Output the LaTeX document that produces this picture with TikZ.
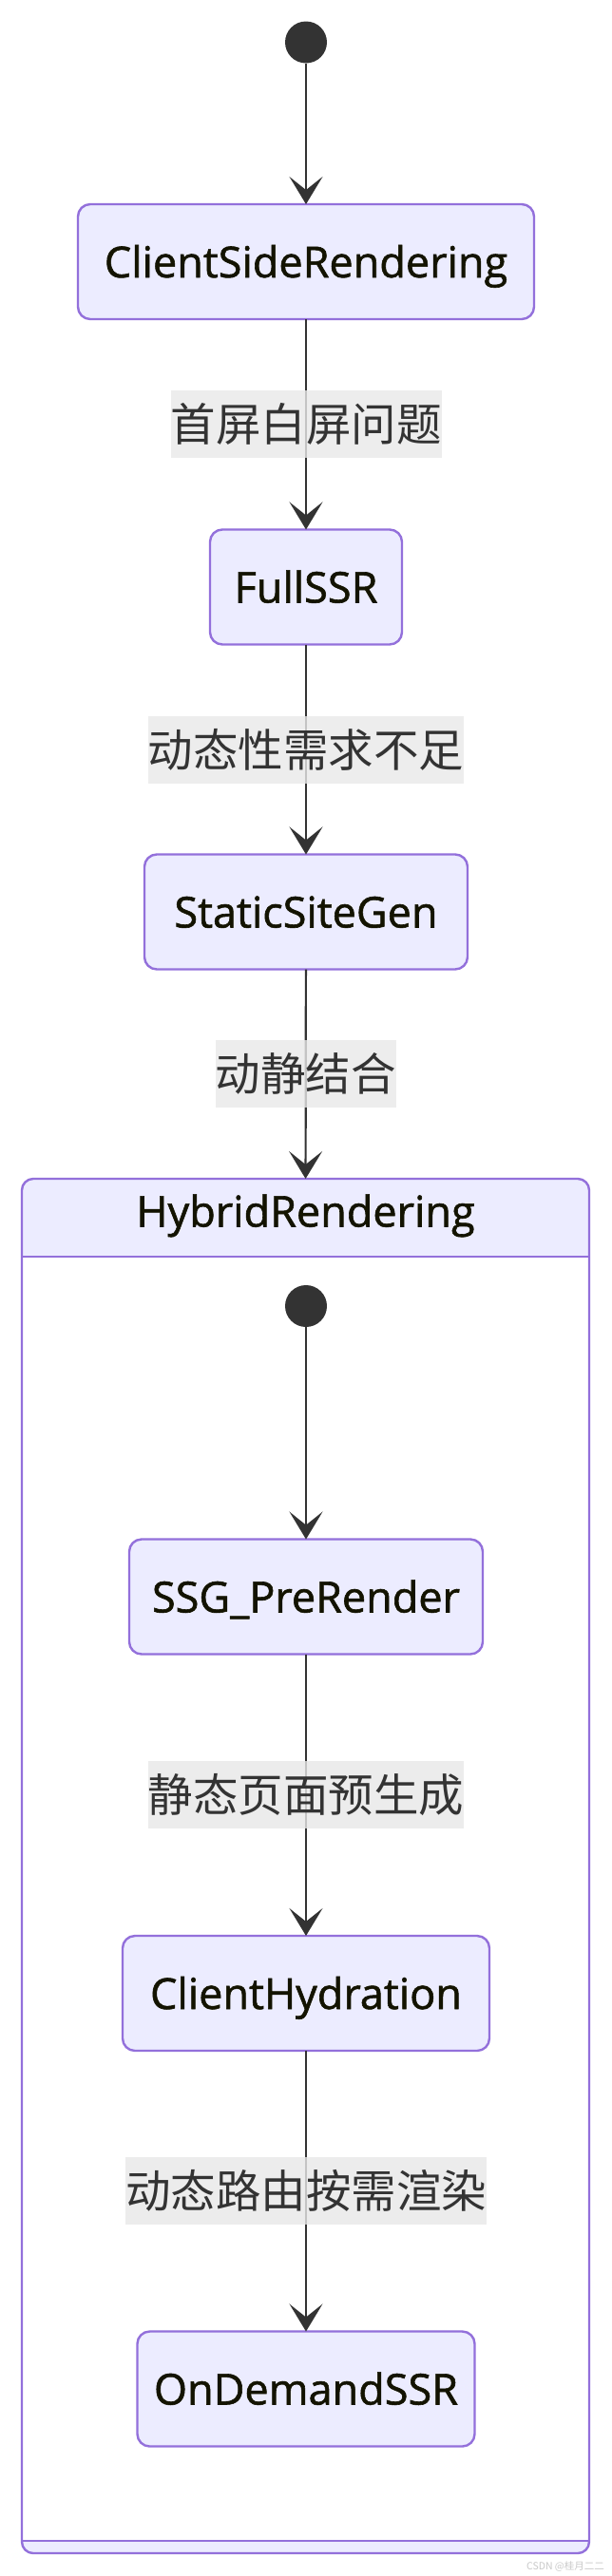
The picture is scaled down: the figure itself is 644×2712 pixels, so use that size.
\documentclass[tikz,border=0pt]{standalone}
\usepackage{fontspec}
\setmainfont{Open Sans}
\newfontfamily\statefont[FakeBold=1.3]{Open Sans}
\newfontfamily\cjkfont{Noto Sans CJK SC}
\usetikzlibrary{arrows.meta}
\definecolor{statefill}{RGB}{236,236,255}
\definecolor{stateline}{RGB}{147,112,219}
\definecolor{edgecol}{RGB}{51,51,51}
\definecolor{lblfill}{RGB}{232,232,232}
\definecolor{lbltext}{RGB}{51,51,51}
\definecolor{nodetext}{RGB}{19,19,0}
\definecolor{markgray}{RGB}{200,200,200}
\begin{document}
\begin{tikzpicture}[x=1pt,y=-1pt,
  state/.style={draw=stateline,fill=statefill,line width=2.4pt,rounded corners=13pt,inner sep=0pt,outer sep=0pt,minimum height=121pt,text=nodetext,font=\statefont\fontsize{45}{54}\selectfont,text height=33pt,text depth=0pt},
  init/.style={circle,fill=edgecol,draw=none,inner sep=0pt,outer sep=0pt,minimum size=44pt},
  trans/.style={draw=edgecol,line width=2.2pt,-{Stealth[length=29pt,width=35pt,inset=14pt]}},
  cond/.style={fill=lblfill,fill opacity=0.8,text opacity=1,text=lbltext,inner xsep=0pt,inner ysep=0pt,minimum height=71pt,font=\cjkfont\fontsize{47.5}{57}\selectfont,text height=41.8pt,text depth=5.7pt}]
\path[use as bounding box] (0,0) rectangle (644,2712);
\path[fill=statefill,rounded corners=12pt] (23,1241) rectangle (620,2688);
\path[fill=white] (23,1323) rectangle (620,2675);
\path[draw=stateline,line width=2.4pt,rounded corners=12pt] (23,1241) rectangle (620,2688);
\draw[stateline,line width=2.4pt] (23,1323) -- (620,1323);
\draw[stateline,line width=2.4pt] (23,2675) -- (620,2675);
\node[init] (start) at (322,44.5) {};
\node[state,minimum width=480pt] (csr) at (322,275.5) {ClientSideRendering};
\node[state,minimum width=202pt] (full) at (322,618) {FullSSR};
\node[state,minimum width=340pt] (ssg) at (322,960) {StaticSiteGen};
\node[inner sep=0pt,outer sep=0pt,minimum width=597pt,minimum height=82pt,text=nodetext,font=\statefont\fontsize{45}{54}\selectfont,text height=33pt,text depth=14pt] (hybrid) at (321.5,1282) {HybridRendering};
\node[init] (hstart) at (322,1375) {};
\node[state,minimum width=372pt] (pre) at (322,1681) {SSG\_PreRender};
\node[state,minimum width=386pt] (hydr) at (322,2098.5) {ClientHydration};
\node[state,minimum width=355pt] (ondem) at (322,2515) {OnDemandSSR};
\draw[trans] (start) -- (csr);
\draw[trans] (csr) -- node[cond] {首屏白屏问题} (full);
\draw[trans] (full) -- node[cond] {动态性需求不足} (ssg);
\draw[trans] (ssg) -- node[cond] {动静结合} (hybrid);
\draw[trans] (hstart) -- (pre);
\draw[trans] (pre) -- node[cond] {静态页面预生成} (hydr);
\draw[trans] (hydr) -- node[cond] {动态路由按需渲染} (ondem);
\node[inner sep=0pt,text=markgray,font=\cjkfont\fontsize{10.5}{12}\selectfont] (mark) at (595,2702) {CSDN @桂月二二};
\end{tikzpicture}
\end{document}
